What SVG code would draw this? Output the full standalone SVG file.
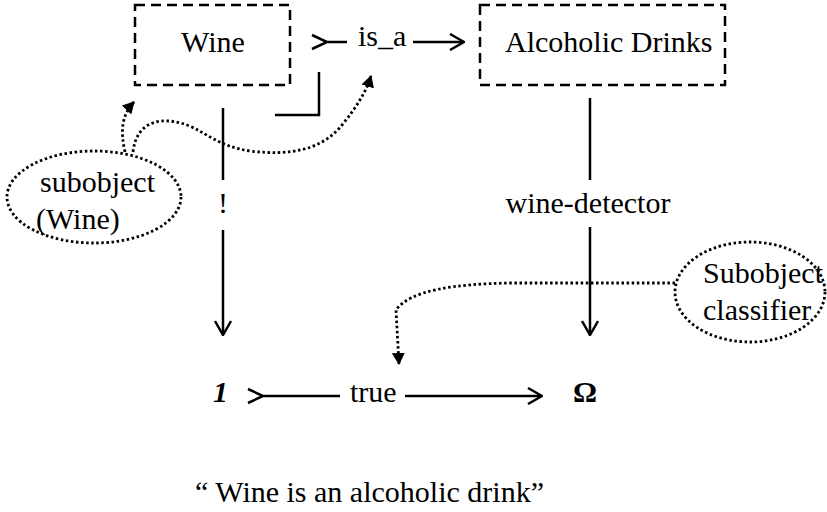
<svg xmlns="http://www.w3.org/2000/svg" width="827" height="512" viewBox="0 0 827 512">
  <defs>
    <style>
      text { font-family: "Liberation Serif", "Times New Roman", serif; font-size: 30px; fill: #000; }
      .box { fill: none; stroke: #000; stroke-width: 2.5; stroke-dasharray: 10 6; }
      .solid { fill: none; stroke: #000; stroke-width: 2.5; }
      .dotted { fill: none; stroke: #000; stroke-width: 2.8; stroke-dasharray: 2.5 2.6; }
      .oval { fill: none; stroke: #000; stroke-width: 2.8; stroke-dasharray: 2.5 2.6; }
    </style>
    <!-- open V arrowhead for solid arrows -->
    <marker id="open" viewBox="0 0 16 18" refX="15" refY="9" markerWidth="16" markerHeight="18" markerUnits="userSpaceOnUse" orient="auto">
      <path d="M1,1 L15,9 L1,17" fill="none" stroke="#000" stroke-width="2.5"/>
    </marker>
    <!-- filled triangle for dotted arrows -->
    <marker id="tri" viewBox="0 0 12 13" refX="11" refY="6.5" markerWidth="12" markerHeight="13" markerUnits="userSpaceOnUse" orient="auto">
      <path d="M0,0 L12,6.5 L0,13 Z" fill="#000"/>
    </marker>
  </defs>

  <rect width="827" height="512" fill="#fff"/>

  <g id="wine">
    <rect class="box" x="135" y="5" width="155" height="80"/>
    <text x="213" y="52" text-anchor="middle">Wine</text>
  </g>

  <g id="alcoholic-drinks">
    <rect class="box" x="480" y="5" width="245" height="80"/>
    <text x="505" y="52">Alcoholic Drinks</text>
  </g>

  <g id="one">
    <text x="213" y="402" font-weight="bold" font-style="italic">1</text>
  </g>

  <g id="omega">
    <text x="573" y="402" font-weight="bold">Ω</text>
  </g>

  <g id="subobject-wine">
    <ellipse class="oval" cx="94" cy="197" rx="87" ry="46"/>
    <text x="40" y="192">subobject</text>
    <text x="36" y="229">(Wine)</text>
  </g>

  <g id="subobject-classifier">
    <ellipse class="oval" cx="750" cy="292" rx="75" ry="50"/>
    <text x="703" y="283">Subobject</text>
    <text x="703" y="320">classifier</text>
  </g>

  <g id="caption">
    <text x="195" y="502">“ Wine is an alcoholic drink”</text>
  </g>

  <g id="connectors">
    <!-- is_a : Wine to Alcoholic Drinks -->
    <path class="solid" d="M312,35 L327,42 L312,49 M327,42 L347,42"/>
    <text x="358" y="46">is_a</text>
    <path class="solid" d="M413,42 L464,42" marker-end="url(#open)"/>
    <path class="solid" d="M275,115 L319,115 L319,72"/>

    <!-- ! : Wine to 1 -->
    <path class="solid" d="M223,108 L223,180"/>
    <text x="223" y="213" text-anchor="middle">!</text>
    <path class="solid" d="M223,230 L223,335" marker-end="url(#open)"/>

    <!-- wine-detector : Alcoholic Drinks to Omega -->
    <path class="solid" d="M590,98 L590,180"/>
    <text x="588" y="213" text-anchor="middle">wine-detector</text>
    <path class="solid" d="M590,227 L590,335" marker-end="url(#open)"/>

    <!-- true : 1 to Omega -->
    <path class="solid" d="M248,389 L263,396 L248,403 M263,396 L340,396"/>
    <text x="350" y="402">true</text>
    <path class="solid" d="M405,396 L542,396" marker-end="url(#open)"/>

    <!-- dotted references -->
    <path class="dotted" d="M125,152 C120,130 122,115 134,102" marker-end="url(#tri)"/>
    <path class="dotted" d="M133,152 C137,118 165,117 187,125 C207,133 218,146 250,151 C290,156 322,150 342,125 C356,108 366,92 371,76" marker-end="url(#tri)"/>
    <path class="dotted" d="M675,283 L510,283 C455,284 410,290 396,310 L399,364" marker-end="url(#tri)"/>
  </g>
</svg>
